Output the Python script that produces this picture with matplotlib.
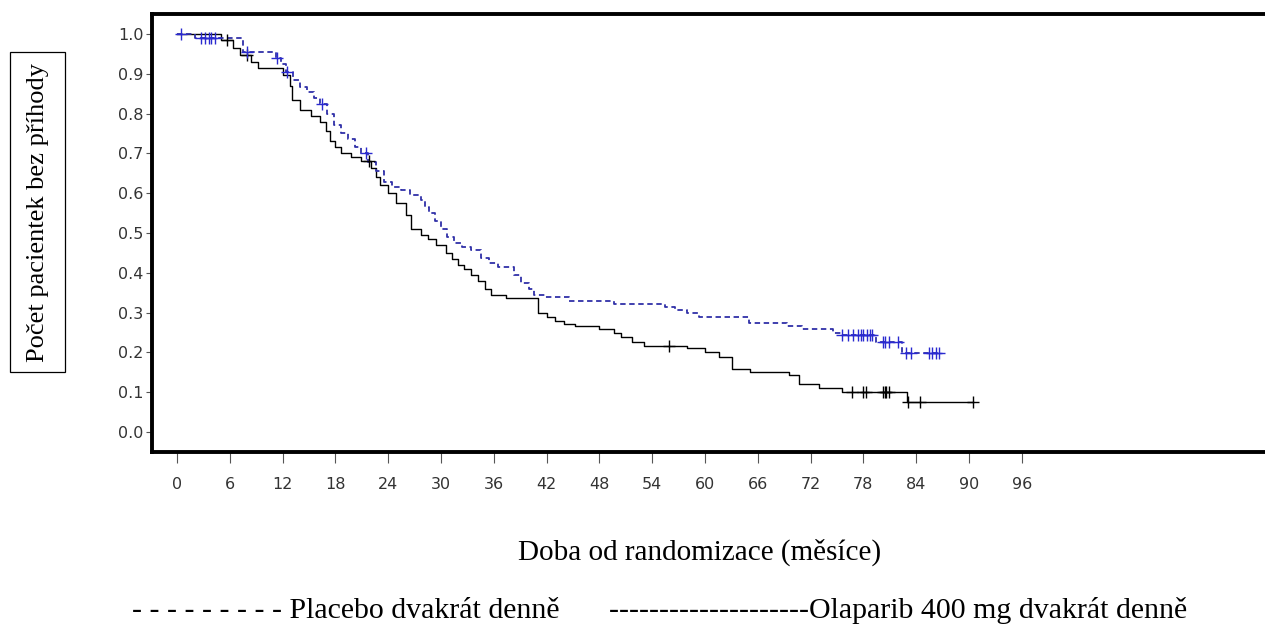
import numpy as np
import matplotlib.pyplot as plt
from matplotlib.patches import Rectangle

# Kaplan-Meier: casy kroku (mesice) a preziti po kroku
blue_t = [0, 2.0, 7.5, 11.2, 11.8, 12.4, 13.2, 14.0, 14.8, 15.6, 16.3, 17.0, 17.8,
          18.6, 19.4, 20.2, 20.9, 21.7, 22.6, 23.5, 24.4, 25.4, 26.5, 27.7, 28.2,
          28.6, 29.3, 30.0, 30.7, 31.5, 32.4, 33.4, 34.5, 35.5, 36.5, 38.3, 39.1,
          40.0, 40.6, 41.8, 44.5, 49.7, 55.4, 56.6, 58.0, 59.3, 65.0, 69.3, 71.0,
          74.5, 75.4, 79.4, 82.4, 86.7]
blue_s = [1.0, 0.99, 0.955, 0.94, 0.925, 0.905, 0.885, 0.867, 0.855, 0.84, 0.825,
          0.80, 0.77, 0.75, 0.735, 0.715, 0.70, 0.678, 0.655, 0.628, 0.615, 0.608,
          0.595, 0.582, 0.565, 0.55, 0.53, 0.51, 0.49, 0.475, 0.465, 0.457, 0.437,
          0.425, 0.414, 0.395, 0.375, 0.36, 0.345, 0.34, 0.33, 0.322, 0.315, 0.306,
          0.298, 0.29, 0.274, 0.266, 0.258, 0.25, 0.243, 0.226, 0.198, 0.198]
blue_cens = [0.5, 2.7, 3.2, 3.6, 3.9, 4.3, 8.0, 11.4, 12.5, 16.5, 21.5, 75.6, 76.2,
             76.8, 77.4, 77.7, 78.0, 78.4, 78.7, 79.0, 80.2, 80.5, 80.9, 81.9, 82.8,
             83.4, 85.5, 85.8, 86.2, 86.6]

black_t = [0, 5.0, 6.4, 7.2, 8.4, 9.2, 12.0, 12.8, 13.1, 14.0, 15.2, 16.3, 16.9,
           17.4, 18.0, 18.6, 19.8, 20.9, 22.0, 22.6, 23.1, 24.0, 24.9, 26.0, 26.6,
           27.7, 28.5, 29.4, 30.6, 31.2, 31.9, 32.6, 33.4, 34.2, 35.0, 35.7, 37.4,
           41.0, 42.0, 42.9, 44.0, 45.2, 47.9, 49.7, 50.5, 51.7, 53.1, 57.9, 60.0,
           61.6, 63.1, 65.1, 69.6, 70.7, 73.0, 75.6, 83.0, 90.4]
black_s = [1.0, 0.985, 0.965, 0.948, 0.93, 0.915, 0.897, 0.87, 0.835, 0.81, 0.795,
           0.78, 0.755, 0.73, 0.715, 0.70, 0.69, 0.68, 0.663, 0.64, 0.62, 0.60,
           0.575, 0.545, 0.51, 0.495, 0.485, 0.47, 0.45, 0.435, 0.42, 0.41, 0.395,
           0.38, 0.36, 0.345, 0.337, 0.30, 0.29, 0.28, 0.271, 0.266, 0.26, 0.25,
           0.239, 0.226, 0.216, 0.211, 0.201, 0.189, 0.158, 0.151, 0.143, 0.12,
           0.11, 0.10, 0.075, 0.075]
black_cens = [5.7, 8.0, 21.8, 55.9, 76.7, 77.9, 78.3, 80.2, 80.4, 80.6, 80.9,
              83.1, 84.4, 90.4]

xticks = list(range(0, 97, 6))
yticks = [round(0.1 * i, 1) for i in range(11)]

BLUE = '#3030a8'


def step_value(times, surv, t):
    i = np.searchsorted(times, t, side='right') - 1
    return np.array(surv)[i]


fig = plt.figure(figsize=(12.65, 6.3), dpi=100)
ax = fig.add_axes([152 / 1265, 1 - 452 / 630, 1118 / 1265, 438 / 630])

ax.step(black_t, black_s, where='post', color='black', lw=1.0)
ax.step(blue_t, blue_s, where='post', color=BLUE, lw=1.3, linestyle=(0, (3, 2)))
ax.plot(black_cens, step_value(black_t, black_s, black_cens), '+', color='black',
        ms=8, mew=1.0)
ax.plot(blue_cens, step_value(blue_t, blue_s, blue_cens), '+', color='#2a2ad0',
        ms=8, mew=1.0)

ax.set_xlim(-2.84, 124.2)
ax.set_ylim(-0.05, 1.05)

for side in ['left', 'top', 'bottom']:
    ax.spines[side].set_linewidth(2.8)
ax.spines['right'].set_visible(False)

ax.set_yticks(yticks)
ax.set_yticklabels(['%.1f' % v for v in yticks])
ax.set_xticks(xticks)
ax.set_xticklabels([str(v) for v in xticks])
ax.tick_params(axis='y', length=4, width=0.8, color='#555555', labelsize=11.5,
               labelcolor='#333333', pad=2)
ax.tick_params(axis='x', length=8, width=0.8, color='#555555', labelsize=11.5,
               labelcolor='#333333', pad=10)

serif = 'Liberation Serif'
fig.text(700 / 1265, 1 - 560 / 630, 'Doba od randomizace (měsíce)', family=serif,
         fontsize=21, ha='center', va='baseline')
fig.text(38 / 1265, 1 - 212 / 630, 'Počet pacientek bez příhody', family=serif,
         fontsize=19, rotation=90, ha='center', va='center')
fig.add_artist(Rectangle((10 / 1265, 1 - 372 / 630), 55 / 1265, 320 / 630,
                         transform=fig.transFigure, fill=False, ec='black', lw=0.9))
fig.text(132 / 1265, 1 - 618 / 630, '- - - - - - - - - Placebo dvakrát denně',
         family=serif, fontsize=21.5, ha='left', va='baseline')
fig.text(609 / 1265, 1 - 618 / 630,
         '--------------------Olaparib 400 mg dvakrát denně',
         family=serif, fontsize=21.5, ha='left', va='baseline')

fig.savefig('out.png', dpi=100)
